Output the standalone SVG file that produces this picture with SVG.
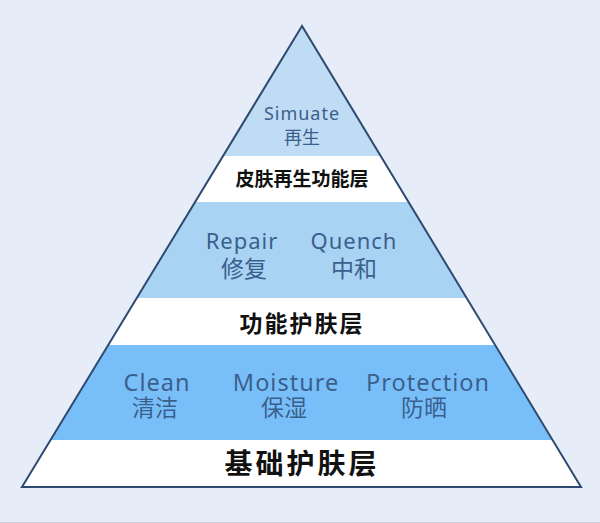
<svg xmlns="http://www.w3.org/2000/svg" width="600" height="523" viewBox="0 0 600 523">
<defs>
<clipPath id="tri"><polygon points="302,26 22,487 581,487"/></clipPath>
<style>
.en{font-family:"Noto Sans","Noto Sans CJK SC",sans-serif;fill:#3b5f8c;text-anchor:middle;letter-spacing:1px}
.zh{font-family:"Noto Sans CJK SC",sans-serif;fill:#3b5f8c;text-anchor:middle}
.hd{font-family:"Noto Sans CJK SC",sans-serif;font-weight:bold;fill:#111;text-anchor:middle}
</style>
</defs>
<rect width="600" height="523" fill="#e6edf8"/>
<line x1="0" y1="522.5" x2="600" y2="522.5" stroke="#c9d0da" stroke-width="1"/>
<g id="pyramid">
<g clip-path="url(#tri)">
<rect x="0" y="0" width="600" height="156" fill="#c0dcf4"/>
<rect x="0" y="156" width="600" height="46" fill="#ffffff"/>
<rect x="0" y="202" width="600" height="96" fill="#a9d3f3"/>
<rect x="0" y="298" width="600" height="47" fill="#ffffff"/>
<rect x="0" y="345" width="600" height="95" fill="#78bffa"/>
<rect x="0" y="440" width="600" height="50" fill="#ffffff"/>
</g>
<polygon points="302,26 22,487 581,487" fill="none" stroke="#2f4a70" stroke-width="2" stroke-linejoin="miter"/>
</g>
<g id="layer-top">
<text class="en" x="302" y="120" font-size="18" letter-spacing="0.5">Simuate</text>
<text class="zh" x="302" y="144" font-size="18">再生</text>
<text class="hd" x="302" y="186" font-size="19">皮肤再生功能层</text>
</g>
<g id="layer-mid">
<text class="en" x="242" y="249" font-size="22">Repair</text>
<text class="zh" x="244" y="277" font-size="23">修复</text>
<text class="en" x="354" y="249" font-size="22">Quench</text>
<text class="zh" x="354" y="277" font-size="23">中和</text>
<text class="hd" x="302" y="332" font-size="23" letter-spacing="2">功能护肤层</text>
</g>
<g id="layer-base">
<text class="en" x="157" y="391" font-size="23.5">Clean</text>
<text class="zh" x="155" y="416" font-size="23">清洁</text>
<text class="en" x="286" y="391" font-size="23.5">Moisture</text>
<text class="zh" x="284" y="416" font-size="23">保湿</text>
<text class="en" x="428" y="391" font-size="23.5">Protection</text>
<text class="zh" x="424" y="416" font-size="23">防晒</text>
<text class="hd" x="302" y="474" font-size="28" letter-spacing="3">基础护肤层</text>
</g>
</svg>
